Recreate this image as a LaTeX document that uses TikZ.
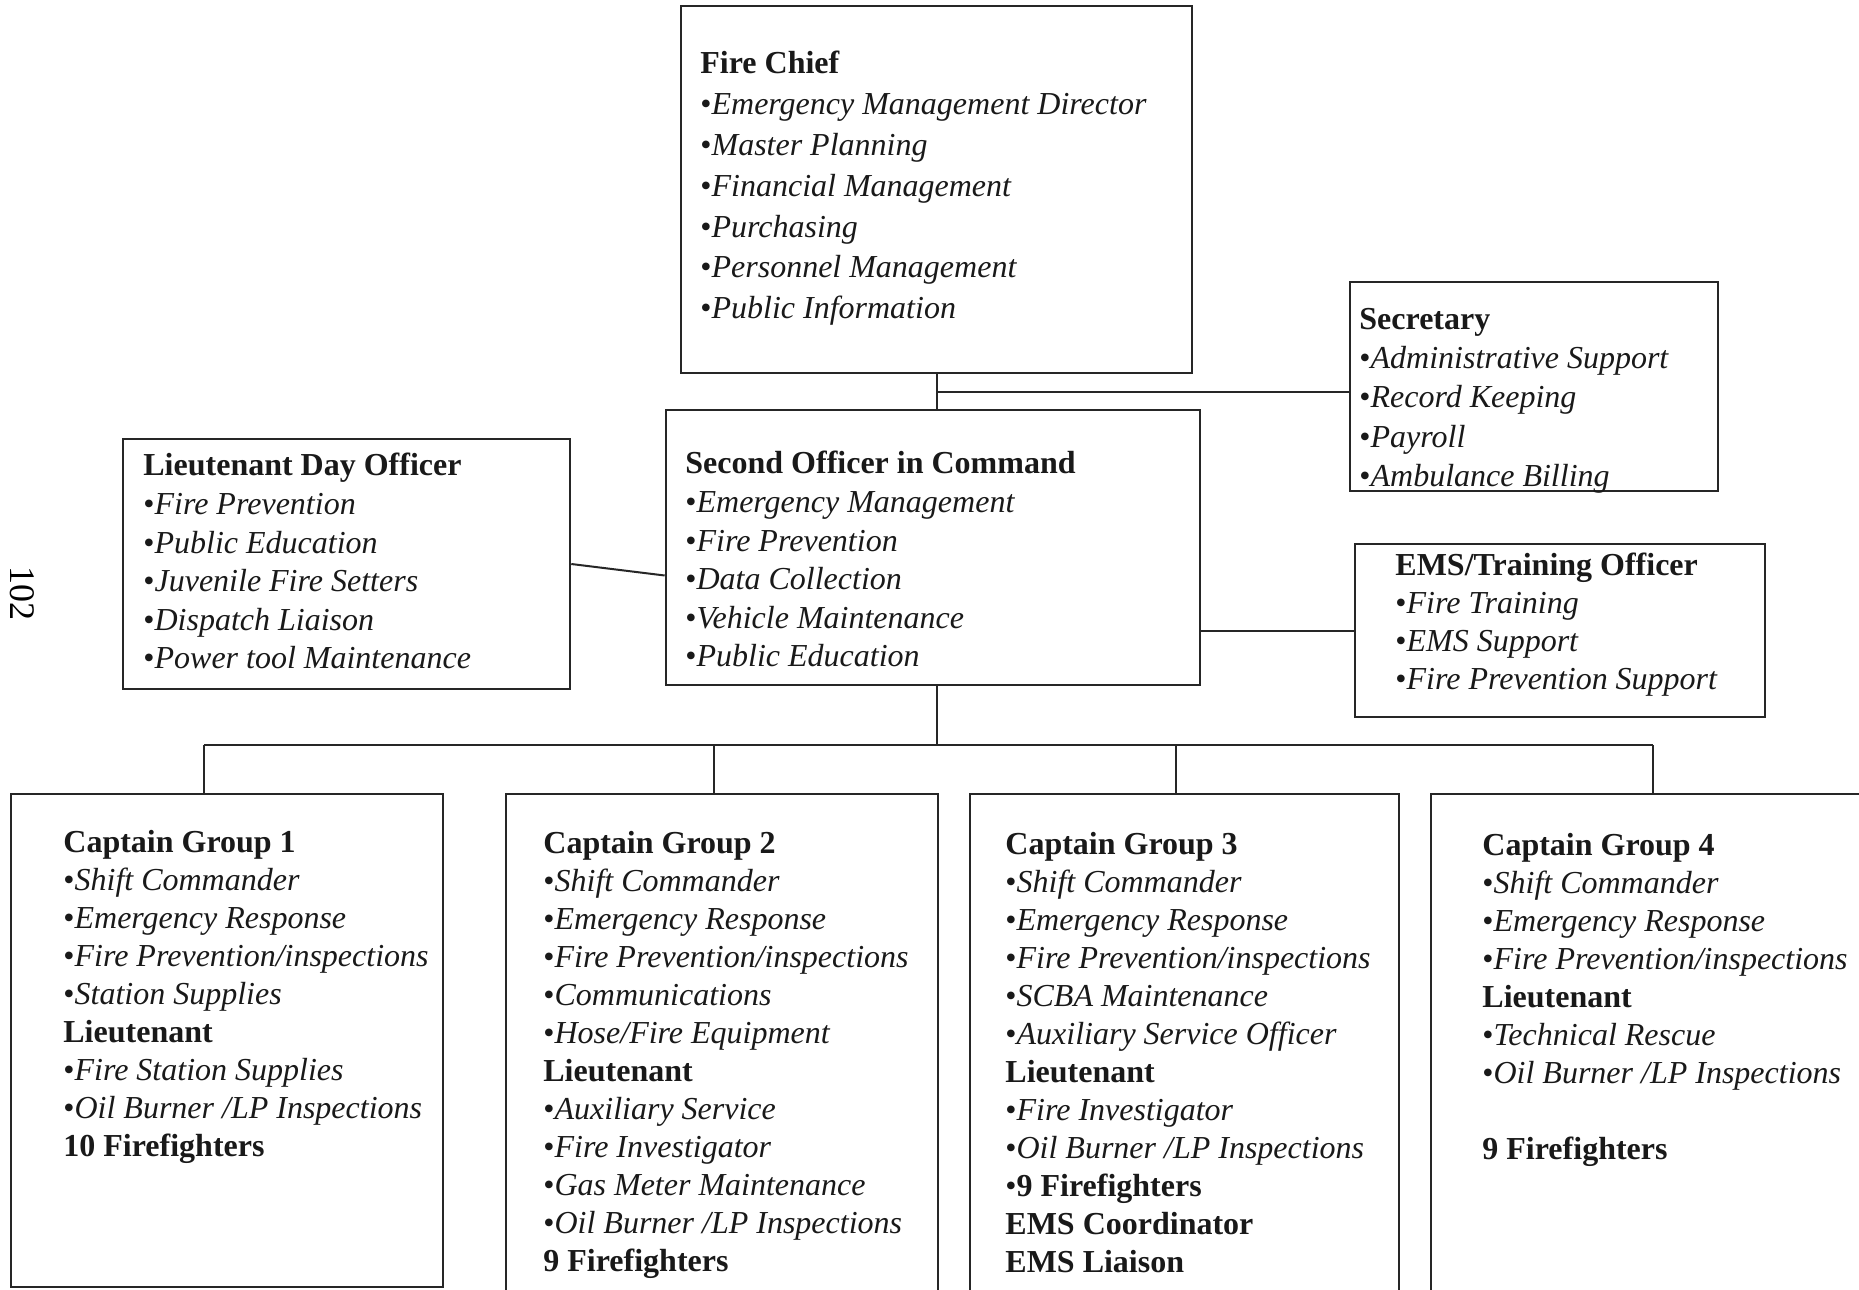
\documentclass[tikz,border=0pt]{standalone}
\usepackage{fontspec}
\setmainfont{Liberation Serif}
\usepackage{tikz}
\usetikzlibrary{fit}

\newcommand{\duty}[1]{\textbullet\textit{#1}}
\tikzset{
  orgbox/.style={draw=black!85, line width=1.3pt, inner sep=0pt},
  orgtext/.style={anchor=north west, inner sep=0pt, align=left, text=black!90,
                  font=\fontsize{16}{19.3}\selectfont},
  captext/.style={orgtext, font=\fontsize{16}{19}\selectfont},
  link/.style={draw=black!85, line width=1pt}
}

\begin{document}
\begin{tikzpicture}[x=0.5pt, y=-0.5pt]
        \useasboundingbox (0,0) rectangle (1859,1290);
        % boxes
        \node[orgbox, fit={(681,6) (1192,373)}] (chief) {};
        \node[orgbox, fit={(1350,282) (1718,491)}] (sec) {};
        \node[orgbox, fit={(666,410) (1200,685)}] (second) {};
        \node[orgbox, fit={(123,439) (570,689)}] (ltday) {};
        \node[orgbox, fit={(1355,544) (1765,717)}] (ems) {};
        \node[orgbox, fit={(11,794) (443,1287)}] (cap1) {};
        \node[orgbox, fit={(506,794) (938,1310)}] (cap2) {};
        \node[orgbox, fit={(970,794) (1399,1310)}] (cap3) {};
        \node[orgbox, fit={(1431,794) (1900,1310)}] (cap4) {};
        % texts
        \node[orgtext, font=\fontsize{16}{20.4}\selectfont] (chieftxt) at (700,51) {\textbf{Fire Chief}\\
            \duty{Emergency Management Director}\\ \duty{Master Planning}\\
            \duty{Financial Management}\\ \duty{Purchasing}\\
            \duty{Personnel Management}\\ \duty{Public Information}};
        \node[orgtext, font=\fontsize{16}{19.6}\selectfont] (sectxt) at (1359,308) {\textbf{Secretary}\\
            \duty{Administrative Support}\\ \duty{Record Keeping}\\
            \duty{Payroll}\\ \duty{Ambulance Billing}};
        \node[orgtext] (secondtxt) at (685,451) {\textbf{Second Officer in Command}\\
            \duty{Emergency Management}\\ \duty{Fire Prevention}\\
            \duty{Data Collection}\\ \duty{Vehicle Maintenance}\\
            \duty{Public Education}};
        \node[orgtext] (ltdaytxt) at (143,453) {\textbf{Lieutenant Day Officer}\\
            \duty{Fire Prevention}\\ \duty{Public Education}\\
            \duty{Juvenile Fire Setters}\\ \duty{Dispatch Liaison}\\
            \duty{Power tool Maintenance}};
        \node[captext] (emstxt) at (1395,553) {\textbf{EMS/Training Officer}\\
            \duty{Fire Training}\\ \duty{EMS Support}\\
            \duty{Fire Prevention Support}};
        \node[captext] (cap1txt) at (63,830) {\textbf{Captain Group 1}\\
            \duty{Shift Commander}\\ \duty{Emergency Response}\\
            \duty{Fire Prevention/inspections}\\ \duty{Station Supplies}\\
            \textbf{Lieutenant}\\ \duty{Fire Station Supplies}\\
            \duty{Oil Burner /LP Inspections}\\ \textbf{10 Firefighters}};
        \node[captext] (cap2txt) at (543,831) {\textbf{Captain Group 2}\\
            \duty{Shift Commander}\\ \duty{Emergency Response}\\
            \duty{Fire Prevention/inspections}\\ \duty{Communications}\\
            \duty{Hose/Fire Equipment}\\ \textbf{Lieutenant}\\
            \duty{Auxiliary Service}\\ \duty{Fire Investigator}\\
            \duty{Gas Meter Maintenance}\\ \duty{Oil Burner /LP Inspections}\\
            \textbf{9 Firefighters}};
        \node[captext] (cap3txt) at (1005,832) {\textbf{Captain Group 3}\\
            \duty{Shift Commander}\\ \duty{Emergency Response}\\
            \duty{Fire Prevention/inspections}\\ \duty{SCBA Maintenance}\\
            \duty{Auxiliary Service Officer}\\ \textbf{Lieutenant}\\
            \duty{Fire Investigator}\\ \duty{Oil Burner /LP Inspections}\\
            \textbullet\textbf{9 Firefighters}\\ \textbf{EMS Coordinator}\\
            \textbf{EMS Liaison}};
        \node[captext] (cap4txt) at (1482,833) {\textbf{Captain Group 4}\\
            \duty{Shift Commander}\\ \duty{Emergency Response}\\
            \duty{Fire Prevention/inspections}\\ \textbf{Lieutenant}\\
            \duty{Technical Rescue}\\ \duty{Oil Burner /LP Inspections}\\[19pt]
            \textbf{9 Firefighters}};
        \node[font=\fontsize{18}{20}\selectfont, rotate=-90, inner sep=0pt] (pagenum) at (22,593) {102};
        % connectors
        \coordinate (secjoin) at (937,392);
        \coordinate (bus) at (937,745);
        \draw[link] (chief.south) -- (chief.south |- second.north);
        \draw[link] (secjoin) -- (secjoin -| sec.west);
        \draw[link] (ltday.east) -- ([yshift=-14pt]second.west);
        \draw[link] (second.east |- ems.west) -- (ems.west);
        \draw[link] (bus |- second.south) -- (bus);
        \draw[link] (204,745) -- (1653,745);
        \foreach \i/\x in {1/204, 2/714, 3/1176, 4/1653}
            \draw[link] (\x,745) -- (\x,745 |- cap\i.north);
    \end{tikzpicture}
\end{document}
